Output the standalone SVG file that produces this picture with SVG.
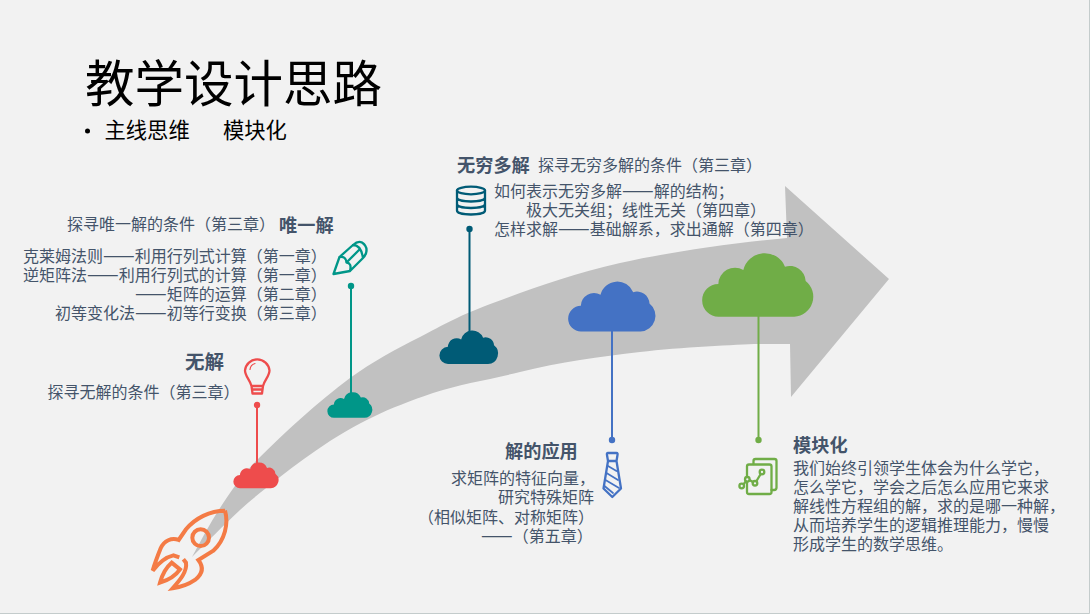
<svg xmlns="http://www.w3.org/2000/svg" width="1090" height="614" viewBox="0 0 1090 614">
<style>
text{font-family:"Noto Sans CJK SC","Liberation Sans",sans-serif;}
.b{font-size:16px;fill:#44546a;}
.d{font-size:18.9px;}
.h{font-size:18.2px;font-weight:700;fill:#44546a;}
.i{fill:none;stroke-width:2.3;stroke-linejoin:round;stroke-linecap:round;}
</style>
<defs>
<path id="cloud" d="M50 190A49 49 0 0 1 49 92A50 50 0 0 1 124 50A66 66 0 0 1 249 40A48 48 0 0 1 311 83A60 60 0 0 1 277 190Z"/>
</defs>
<rect width="1090" height="614" fill="#f2f2f2"/>
<path d="M0 613.500H1089.500V0" fill="none" stroke="#c4cccc" stroke-width="1"/>
<path id="big-arrow" fill="#c1c1c1" d="M192 557C201 541 209.200 524.200 220 508C230.800 491.800 240 477 257 460C285 432 318 402 350 378C372 362 396 349 420 337C443.800 324.500 459.700 315.300 493 303C526.300 290.700 571 273.800 620 263C669 252.200 730 243 787 238L785 186L889 279L791 397L790 344L758 344C738 344.500 679.700 347.300 640 352C600 356.700 560 362 520 372C490 379.500 460 384 433 393C410 401 391 408 373 417C356 425 343 433 330 441C312 453 295 465 280 477C265 489 252 499 240 510C225 524 205 544 192 557Z"/>
<g id="connectors" fill="none" stroke-width="2">
<path d="M257 405V466" stroke="#ee4c4c"/><circle cx="257" cy="405" r="3.2" fill="#ee4c4c"/>
<path d="M351 286V396" stroke="#009688"/><circle cx="351" cy="286" r="3.2" fill="#009688"/>
<path d="M469.500 229V335" stroke="#005b76"/><circle cx="469.500" cy="229" r="3.2" fill="#005b76"/>
<path d="M612 330V440" stroke="#4472c4"/><circle cx="612" cy="440" r="3.2" fill="#4472c4"/>
<path d="M758.500 315V440" stroke="#70ad47"/><circle cx="758.500" cy="440" r="3.2" fill="#70ad47"/>
</g>
<g id="title">
<text x="85" y="102" font-size="49.500" fill="#000">教学设计思路</text>
<circle cx="87.500" cy="131" r="2.500" fill="#000"/>
<text x="104.500" y="138" font-size="21.300" fill="#000">主线思维</text>
<text x="223" y="138" font-size="21.300" fill="#000">模块化</text>
</g>
<g id="rocket" transform="translate(130 440) scale(.3333)" fill="none" stroke="#f47b45" stroke-width="12" stroke-linejoin="miter">
<path d="M285 212C240 212 195 235 168 268L146 300C125 292 102 302 92 325C84 345 76 365 68 392C85 370 105 352 130 346L148 352M285 212C296 250 285 300 250 332L205 360C222 382 218 402 195 420C175 434 150 442 128 445C150 420 172 395 168 368L160 358"/>
<path d="M125 368L150 388C135 410 115 420 90 428C96 405 105 385 125 368Z"/>
<circle cx="212" cy="293" r="25"/>
</g>
<g id="cloud-red"><use href="#cloud" fill="#ee4c4c" transform="translate(233.300 462.500) scale(.1355)"/></g>
<g id="cloud-teal"><use href="#cloud" fill="#009688" transform="translate(327.300 392.200) scale(.1347)"/></g>
<g id="cloud-dark"><use href="#cloud" fill="#005b76" transform="translate(439.300 330.600) scale(.176)"/></g>
<g id="cloud-blue"><use href="#cloud" fill="#4472c4" transform="translate(568 281.700) scale(.262)"/></g>
<g id="cloud-green"><use href="#cloud" fill="#70ad47" transform="translate(702 253.300) scale(.3333)"/></g>
<g id="node-none">
<text class="h" x="185" y="369" style="font-size:19.500px">无解</text>
<text class="b" x="47.500" y="398">探寻无解的条件（第三章）</text>
<g class="i" stroke="#ee4c4c">
<path d="M251.500 386C250 380 245 376 245 370.500A12.300 12.300 0 0 1 269.500 370.500C269.500 376 264.500 380 263 386ZM251.500 386L252.500 393.500H262L263 386M252 389.500H262.500"/>
<path d="M250 369.500A7 7 0 0 1 255 363.500" stroke-width="1.200"/>
</g>
</g>
<g id="node-unique">
<text class="b" x="67" y="230">探寻唯一解的条件（第三章）</text>
<text class="h" x="279" y="232">唯一解</text>
<text class="b" x="23" y="262">克莱姆法则<tspan class="d">——</tspan>利用行列式计算（第一章）</text>
<text class="b" x="23" y="281">逆矩阵法<tspan class="d">——</tspan>利用行列式的计算（第一章）</text>
<text class="b" x="135" y="300"><tspan class="d">——</tspan>矩阵的运算（第二章）</text>
<text class="b" x="55" y="319">初等变化法<tspan class="d">——</tspan>初等行变换（第三章）</text>
<g class="i" stroke="#009688">
<path d="M333.500 274L339.500 257L353 245Q358 240.500 362 242.500Q367 246 366.500 251Q366 255 363 258L350 271ZM339.500 257Q346 256 346.500 262.500Q352 263 350 271M346.500 262.500L360 249M353 245Q361 245 363 258"/>
</g>
</g>
<g id="node-infinite">
<text class="h" x="457" y="172">无穷多解</text>
<text class="b" x="538" y="171">探寻无穷多解的条件（第三章）</text>
<text class="b" x="494" y="197">如何表示无穷多解<tspan class="d">——</tspan>解的结构；</text>
<text class="b" x="526" y="216">极大无关组；线性无关（第四章）</text>
<text class="b" x="494" y="235">怎样求解<tspan class="d">——</tspan>基础解系，求出通解（第四章）</text>
<g class="i" stroke="#005b76">
<ellipse cx="471" cy="190.500" rx="14" ry="3.800"/>
<path d="M457 190.500V210.500C457 213 463 214.500 471 214.500S485 213 485 210.500V190.500M457 197.500C457 200 463 201.500 471 201.500S485 200 485 197.500M457 204C457 206.500 463 208 471 208S485 206.500 485 204"/>
</g>
</g>
<g id="node-apply">
<text class="h" x="505" y="458">解的应用</text>
<text class="b" x="451" y="484">求矩阵的特征向量，</text>
<text class="b" x="498" y="503">研究特殊矩阵</text>
<text class="b" x="418" y="522.500">（相似矩阵、对称矩阵）</text>
<text class="b" x="481" y="541.500"><tspan class="d">——</tspan>（第五章）</text>
<g class="i" stroke="#4472c4">
<path d="M608 453H616.500Q618 453 617.500 455L616.500 461H608L607 455Q606.500 453 608 453ZM608 461L603.500 488.500L612.300 497L621 488.500L616.500 461"/>
<path d="M608 466L616.500 471M606.500 473L618 480M605.500 480L619 488M604.500 486L613 493" stroke-width="1.700"/>
</g>
</g>
<g id="node-module">
<text class="h" x="793" y="451.500">模块化</text>
<text class="b" x="793" y="473.500">我们始终引领学生体会为什么学它，</text>
<text class="b" x="793" y="492.500">怎么学它，学会之后怎么应用它来求</text>
<text class="b" x="793" y="511.500">解线性方程组的解，求的是哪一种解，</text>
<text class="b" x="793" y="530.500">从而培养学生的逻辑推理能力，慢慢</text>
<text class="b" x="793" y="549.500">形成学生的数学思维。</text>
<g class="i" stroke="#70ad47">
<path d="M753.500 464V461Q753.500 459 755.500 459H774.500Q776.500 459 776.500 461V487.500Q776.500 490 774 490H771.500"/>
<rect x="747" y="464.500" width="24.500" height="29.500" rx="2"/>
<path d="M743.500 484.500L745.700 481.300M750 480.300L752.800 482M756.500 481L760.700 474"/>
<circle cx="741.700" cy="486" r="2.300" fill="#f2f2f2"/><circle cx="747.300" cy="479.300" r="2.300" fill="#f2f2f2"/><circle cx="755" cy="483.300" r="2.300" fill="#f2f2f2"/><circle cx="762" cy="472" r="2.300" fill="#f2f2f2"/>
</g>
</g>
</svg>
